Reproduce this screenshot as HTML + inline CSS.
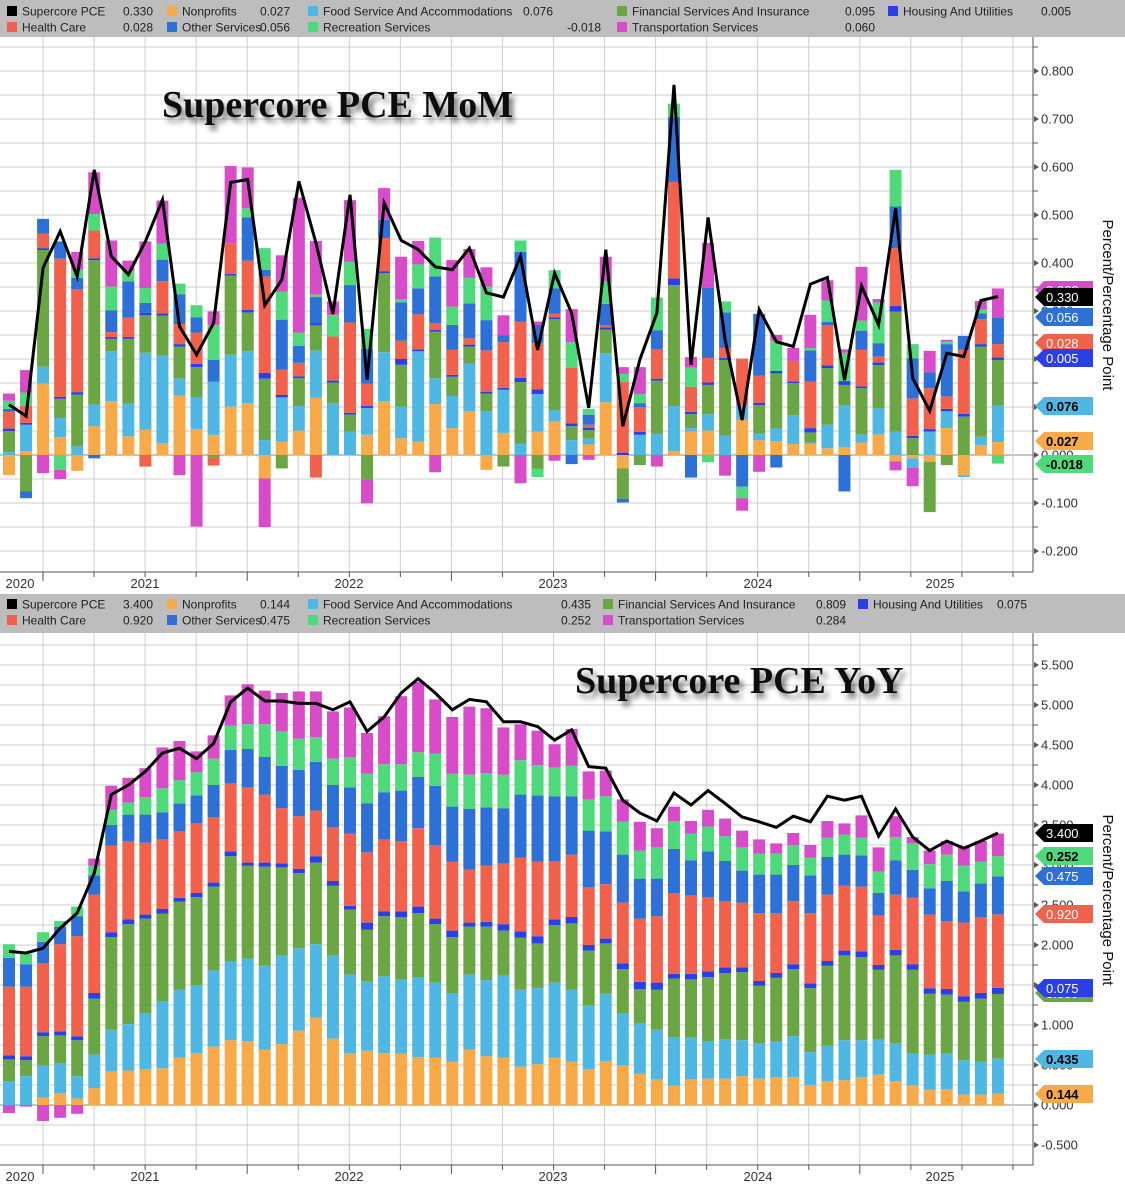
<!DOCTYPE html>
<html>
<head>
<meta charset="utf-8">
<style>
html,body{margin:0;padding:0;background:#fff;}
svg{display:block;font-family:"Liberation Sans",sans-serif;}
</style>
</head>
<body>
<svg id="chart" xmlns="http://www.w3.org/2000/svg" width="1125" height="1186" viewBox="0 0 1125 1186">
  <defs>
    <filter id="shadow" x="-10%" y="-30%" width="130%" height="180%">
      <feGaussianBlur in="SourceAlpha" stdDeviation="3"/>
      <feOffset dx="4" dy="5" result="b"/>
      <feComponentTransfer><feFuncA type="linear" slope="0.55"/></feComponentTransfer>
      <feMerge><feMergeNode/><feMergeNode in="SourceGraphic"/></feMerge>
    </filter>
    <clipPath id="clipTop"><rect x="0" y="37" width="1033" height="535"/></clipPath>
    <clipPath id="clipBot"><rect x="0" y="633" width="1033" height="532"/></clipPath>
  </defs>
  <rect x="0" y="0" width="1125" height="1186" fill="#fff"/>
  <g id="top-panel"></g>
  <g id="bot-panel"></g>
  <text x="162" y="117" font-family="Liberation Serif, serif" font-weight="bold" font-size="38" fill="#111" filter="url(#shadow)">Supercore PCE MoM</text>
  <text x="575" y="693" font-family="Liberation Serif, serif" font-weight="bold" font-size="38" fill="#111" filter="url(#shadow)">Supercore PCE YoY</text>
</svg>
<script>
// ---------- Data: MoM (top panel) ----------
const momNonprofits = [-.042,.008,.149,.037,-.033,.060,.112,.039,.053,.025,.124,.054,.042,.101,.108,-.049,.028,.051,.119,0,0,.042,.112,.035,.028,.106,.056,.091,-.031,.046,0,.049,.070,0,.022,.110,-.028,0,0,.008,.049,.051,0,.074,.031,.029,.023,.024,.014,.016,.026,.043,-.013,-.007,-.014,.056,-.042,.021,.027];
const momFood = [.006,.055,.035,.040,.018,.045,.104,.068,.160,.182,.035,.066,.111,.108,.108,.031,.092,.051,.099,.108,.049,.056,.102,.066,.188,.054,.067,.099,.091,.090,.024,.078,.023,.031,.012,.102,0,.042,.044,.094,.007,.034,.040,.030,.014,.026,.060,.002,.049,.088,.017,.054,.049,-.020,.049,.035,-.004,.017,.076];
const momFinancial = [.044,-.076,.243,.040,.108,.301,.026,.135,.078,.083,.067,.063,-.005,.165,.081,.128,-.028,.058,.052,.043,.035,-.052,.165,.087,0,.097,.040,.036,.037,-.024,.128,-.029,.190,.029,.018,.049,-.063,-.021,.111,.252,.029,.061,.158,0,.059,.115,.067,.021,.118,.042,.096,.090,.250,.035,-.105,-.021,.080,.188,.095];
const momHousing = [.005,.004,.004,.004,.005,.004,.004,.004,.005,.005,.005,.007,0,.003,.005,.012,.005,.004,.004,.004,.004,.004,.004,.012,.004,.004,.004,.004,.004,.004,.009,.010,.004,.006,.005,.005,.005,.006,.004,.014,.005,.005,.004,0,.005,.005,.003,.009,.006,.008,.004,.006,.012,.005,.005,.005,.006,.005,.005];
const momHealth = [.035,.035,.030,.288,.214,.058,.010,.040,-.024,.067,.042,.065,-.017,.063,.103,.201,.053,.028,-.047,.092,.188,.047,.069,.038,.073,.014,.052,.013,.086,.095,.117,.096,.007,.116,.006,.004,.147,.052,.061,.201,.052,.051,.021,.097,.056,0,.042,.097,.083,0,.076,.012,.120,.078,.085,.026,.133,.052,.028];
const momOther = [.006,-.014,.031,.036,.024,-.007,.045,.076,.021,.045,.062,.032,.045,0,.090,.014,.104,.035,.055,0,.078,.072,.038,.080,.054,.097,.052,.073,.063,.014,.145,.038,.053,-.019,.021,.045,-.008,.008,.040,.135,-.047,.146,.074,-.066,.129,-.026,0,.065,.007,-.076,.040,.028,.087,.083,.033,.109,.029,.012,.056];
const momRecreation = [.017,.028,0,-.031,.017,.034,.050,.021,.031,.033,.022,.025,.073,0,.019,.045,.058,.028,.005,.045,.049,.042,0,.007,.050,.081,.038,.053,.070,0,.024,-.017,.038,.053,.012,.047,.017,.019,.068,.028,.040,-.015,.023,-.024,0,.063,0,.005,.045,.059,.021,.085,.076,.030,0,.005,0,.008,-.018];
const momTransport = [.015,.047,-.038,-.019,.037,.087,.096,.022,.097,.090,-.042,-.149,.028,.162,.085,-.101,.076,.281,.112,.028,.128,-.049,.066,.088,.049,-.036,.097,.060,.040,.042,-.059,.007,-.012,.069,-.010,.051,.014,.056,-.024,0,.022,.094,-.043,-.026,-.035,.012,.028,.069,.042,.007,.112,.007,-.019,-.038,.045,.004,0,.018,.060];
const momSupercore = [.105,.081,.39,.466,.372,.594,.414,.376,.445,.532,.268,.209,.275,.568,.574,.312,.365,.570,.442,.294,.542,.157,.525,.447,.428,.392,.386,.431,.338,.329,.414,.219,.379,.296,.098,.428,.060,.199,.296,.771,.188,.495,.240,.073,.303,.236,.226,.356,.370,.156,.352,.271,.514,.160,.092,.212,.205,.322,.330];
const momTicks = [0.8,0.7,0.6,0.5,0.4,0.3,0.2,0.1,0.0,-0.1,-0.2];

// ---------- Data: YoY (bottom panel) ----------
const yoyNonprofits = [0,0,.09,.15,.08,.21,.42,.43,.45,.46,.59,.65,.73,.81,.80,.69,.76,.93,1.09,.83,.65,.68,.65,.64,.60,.59,.54,.69,.61,.59,.48,.51,.59,.54,.45,.55,.50,.39,.32,.24,.32,.33,.33,.36,.33,.35,.35,.25,.30,.31,.35,.38,.30,.25,.19,.20,.13,.13,.144];
const yoyFood = [.30,.36,.40,.37,.28,.42,.52,.58,.70,.84,.85,.85,.95,.99,1.03,1.05,1.11,1.03,.92,1.04,.98,.86,.96,.93,1.00,.94,.86,.94,.95,1.03,.96,.95,.94,.90,.80,.84,.65,.63,.62,.61,.53,.47,.49,.45,.44,.44,.51,.41,.44,.50,.46,.44,.47,.40,.44,.45,.43,.41,.435];
const yoyFinancial = [.27,.20,.37,.35,.45,.70,1.16,1.25,1.18,1.09,1.10,1.10,1.05,1.31,1.16,1.24,1.10,.94,1.02,.87,.81,.65,.75,.78,.80,.73,.70,.60,.67,.56,.65,.56,.72,.83,.68,.63,.55,.43,.50,.73,.72,.80,.83,.85,.72,.80,.84,.80,1.00,1.06,1.04,.87,1.10,1.04,.76,.73,.73,.79,.809];
const yoyHousing = [.05,.05,.05,.05,.05,.07,.06,.06,.05,.06,.05,.05,.05,.06,.04,.05,.05,.05,.08,.06,.05,.09,.06,.07,.08,.07,.08,.05,.06,.08,.08,.09,.07,.08,.07,.06,.07,.09,.09,.06,.07,.07,.07,.06,.06,.06,.06,.06,.06,.06,.07,.06,.07,.07,.07,.07,.07,.07,.075];
const yoyHealth = [.86,.87,.86,1.09,1.25,1.23,1.08,.98,.90,.87,.83,.87,.82,.85,.94,.85,.69,.66,.57,.67,.90,.88,.90,.88,.98,.92,.86,.66,.70,.76,.92,.93,.73,.78,.72,.68,.76,.79,.83,1.01,.98,.93,.83,.81,.85,.75,.79,.88,.83,.81,.81,.62,.69,.83,.92,.85,.92,.95,.92];
const yoyOther = [.36,.28,.27,.22,.25,.24,.26,.33,.35,.34,.35,.35,.40,.42,.48,.47,.53,.58,.61,.53,.58,.61,.59,.63,.64,.74,.69,.76,.73,.69,.79,.83,.81,.73,.71,.66,.60,.50,.47,.55,.44,.57,.50,.40,.48,.48,.45,.47,.47,.39,.39,.28,.43,.35,.33,.50,.39,.42,.475];
const yoyRecreation = [.17,.13,.12,.07,.12,.12,.19,.15,.22,.30,.29,.29,.33,.30,.31,.41,.43,.39,.31,.33,.38,.37,.35,.33,.31,.40,.41,.43,.43,.42,.43,.38,.36,.38,.39,.44,.41,.35,.39,.35,.33,.31,.31,.29,.26,.26,.25,.22,.24,.25,.22,.27,.29,.33,.30,.33,.32,.27,.252];
const yoyTransport = [-.10,-.02,-.20,-.16,-.11,.09,.30,.31,.36,.51,.49,.26,.29,.38,.50,.42,.48,.59,.57,.59,.62,.51,.60,.85,.88,.68,.71,.85,.81,.59,.45,.43,.29,.46,.35,.32,.28,.36,.24,.18,.16,.21,.22,.21,.18,.13,.15,.16,.21,.14,.28,.30,.26,.08,.17,.17,.24,.26,.284];
const yoySupercore = [1.92,1.90,1.96,2.21,2.40,2.90,3.88,4.00,4.17,4.40,4.46,4.33,4.52,5.04,5.21,5.05,5.05,5.02,5.02,4.94,5.04,4.67,4.85,5.15,5.33,5.15,4.94,5.07,5.04,4.79,4.79,4.73,4.56,4.69,4.23,4.21,3.81,3.65,3.55,3.90,3.75,3.93,3.77,3.60,3.54,3.47,3.61,3.54,3.86,3.81,3.86,3.36,3.70,3.35,3.18,3.30,3.21,3.30,3.40];
const yoyTicks = [5.5,5.0,4.5,4.0,3.5,3.0,2.5,2.0,1.5,1.0,0.5,0.0,-0.5];

const yearLabels = ["2020","2021","2022","2023","2024","2025"];
const seriesNames = ["Nonprofits","Food Service And Accommodations","Financial Services And Insurance","Housing And Utilities","Health Care","Other Services","Recreation Services","Transportation Services"];

// ---------- Style ----------
const COLORS = {"Nonprofits":"#f8aa48","Food Service And Accommodations":"#4fb7e4","Financial Services And Insurance":"#6aa744","Housing And Utilities":"#2b3fe8","Health Care":"#f2614b","Other Services":"#2c70d8","Recreation Services":"#4ed97b","Transportation Services":"#d84bc9","Supercore PCE":"#000000"};
const SLUG = {"Nonprofits":"nonprofits","Food Service And Accommodations":"food-service","Financial Services And Insurance":"financial-services","Housing And Utilities":"housing-utilities","Health Care":"health-care","Other Services":"other-services","Recreation Services":"recreation-services","Transportation Services":"transportation-services"};
const NS = "http://www.w3.org/2000/svg";
const X0 = 9, STEP = 17.05, BW = 12;
function xPos(i){ return X0 + i*STEP; }
function mk(tag, attrs, parent){
  const e = document.createElementNS(NS, tag);
  for (const k in attrs) e.setAttribute(k, attrs[k]);
  parent.appendChild(e);
  return e;
}

function drawPanel(cfg){
  const g = document.getElementById(cfg.gid);
  const y = cfg.y;
  const lb = mk("rect",{x:0,y:cfg.legTop,width:1125,height:cfg.legH,fill:"#bdbdbd"},g);
  
  
  for (let v = cfg.gridMin; v <= cfg.gridMax + 1e-9; v += cfg.gridStep){
    const yy = y(v);
    if (yy < cfg.plotTop || yy > cfg.plotBottom) continue;
    const gl = mk("line",{x1:0,x2:1033,y1:yy,y2:yy,stroke:Math.abs(v)<1e-9?"#8a8a8a":"#cfcfcf","stroke-width":1},g);
    
    
  }
  for (let k = 0; k < 20; k++){
    const xx = 43 + k*51.05;
    const vl = mk("line",{x1:xx,x2:xx,y1:cfg.plotTop,y2:cfg.plotBottom,stroke:"#cfcfcf","stroke-width":1},g);
    
    
  }
  const bars = mk("g",{"clip-path":cfg.clip},g);
  
  
  const n = cfg.series[0].length;
  for (let i = 0; i < n; i++){
    let pos = 0, neg = 0;
    for (let s = 0; s < cfg.series.length; s++){
      const v = cfg.series[s][i];
      if (!v) continue;
      let y1, y2;
      if (v > 0){ y1 = y(pos + v); y2 = y(pos); pos += v; }
      else { y1 = y(neg); y2 = y(neg + v); neg += v; }
      const r = mk("rect",{x:xPos(i)-BW/2,y:y1,width:BW,height:Math.max(0,y2-y1),fill:COLORS[seriesNames[s]]},bars);
      
      
    }
  }
  let d = "";
  cfg.line.forEach((v,i)=>{ d += (i?"L":"M") + xPos(i).toFixed(1) + "," + y(v).toFixed(1); });
  const ln = mk("path",{d:d,fill:"none",stroke:"#000","stroke-width":3,"stroke-linejoin":"miter","clip-path":cfg.clip},g);
  
  
  const ax = mk("line",{x1:1033,x2:1033,y1:cfg.plotTop,y2:cfg.plotBottom,stroke:"#555","stroke-width":1},g);
  
  
  const xa = mk("line",{x1:0,x2:1033,y1:cfg.plotBottom,y2:cfg.plotBottom,stroke:"#555","stroke-width":1},g);
  
  
  for (let k = 0; k < 20; k++){
    const xx = 43 + k*51.05;
    const tk = mk("line",{x1:xx,x2:xx,y1:cfg.plotBottom,y2:cfg.plotBottom+(k%4===0?9:5),stroke:"#555"},g);
    
    
  }
  const yearX = [20,145,349,553,758,940];
  yearLabels.forEach((t,k)=>{
    const tx = mk("text",{x:yearX[k],y:cfg.plotBottom+16,"text-anchor":"middle","font-size":13,fill:"#333"},g);
    tx.textContent = t;
    
    
  });
  cfg.ticks.forEach(v=>{
    const yy = y(v);
    const tm = mk("path",{d:"M1034,"+(yy-3)+"L1039,"+yy+"L1034,"+(yy+3)+"Z",fill:"#555"},g);
    
    
    const tx = mk("text",{x:1041,y:yy+4.5,"font-size":13,fill:"#333"},g);
    tx.textContent = v.toFixed(3);
    
    
    const my = y(v + cfg.gridStep);
    if (my >= cfg.plotTop){
      const mt = mk("line",{x1:1033,x2:1038,y1:my,y2:my,stroke:"#555"},g);
      
      
    }
  });
  const at = mk("text",{x:0,y:0,"font-size":15,fill:"#111","text-anchor":"middle",transform:"translate(1103,"+cfg.titleY+") rotate(90)"},g);
  at.textContent = "Percent/Percentage Point";
  
  
  cfg.tags.forEach(tg=>{
    const yy = tg.y;
    const p = mk("path",{d:"M1035,"+yy+"L1044,"+(yy-9)+"L1093,"+(yy-9)+"L1093,"+(yy+9)+"L1044,"+(yy+9)+"Z",fill:tg.color},g);
    
    
    const t = mk("text",{x:1046,y:yy+5,"font-size":13,fill:tg.text,"font-weight":tg.text==="#000"?"bold":"normal"},g);
    t.textContent = tg.value.toFixed(3);
    
    
  });
  cfg.legend.forEach(it=>{
    const sq = mk("rect",{x:it.sx,y:it.y-5,width:10,height:10,fill:COLORS[it.name]},g);
    
    
    const t = mk("text",{x:it.sx+15,y:it.y+4.5,"font-size":12,fill:"#222"},g);
    t.textContent = it.name;
    
    
    const v = mk("text",{x:it.vx,y:it.y+4.5,"font-size":12,fill:"#222","text-anchor":"end"},g);
    v.textContent = it.value.toFixed(3);
    
    
  });
}

const L = a => a[a.length-1];
const momSeries = [momNonprofits,momFood,momFinancial,momHousing,momHealth,momOther,momRecreation,momTransport];
const yoySeries = [yoyNonprofits,yoyFood,yoyFinancial,yoyHousing,yoyHealth,yoyOther,yoyRecreation,yoyTransport];

drawPanel({
  gid:"top-panel", y:v=>455 - v*480, legTop:0, legH:37, plotTop:37, plotBottom:572,
  gridMin:-0.25, gridMax:0.85, gridStep:0.05, clip:"url(#clipTop)",
  series:momSeries, line:momSupercore, ticks:momTicks, titleY:305,
  tags:[
    {y:290,color:COLORS["Transportation Services"],text:"#fff",value:L(momTransport)},
    {y:297,color:"#000",text:"#fff",value:L(momSupercore)},
    {y:317,color:COLORS["Other Services"],text:"#fff",value:L(momOther)},
    {y:343,color:COLORS["Health Care"],text:"#fff",value:L(momHealth)},
    {y:358,color:COLORS["Housing And Utilities"],text:"#fff",value:L(momHousing)},
    {y:406,color:COLORS["Food Service And Accommodations"],text:"#000",value:L(momFood)},
    {y:441,color:COLORS["Nonprofits"],text:"#000",value:L(momNonprofits)},
    {y:464,color:COLORS["Recreation Services"],text:"#000",value:L(momRecreation)}
  ],
  legend:[
    {name:"Supercore PCE",sx:7,y:11,vx:153,value:L(momSupercore)},
    {name:"Nonprofits",sx:167,y:11,vx:290,value:L(momNonprofits)},
    {name:"Food Service And Accommodations",sx:308,y:11,vx:553,value:L(momFood)},
    {name:"Financial Services And Insurance",sx:617,y:11,vx:875,value:L(momFinancial)},
    {name:"Housing And Utilities",sx:888,y:11,vx:1071,value:L(momHousing)},
    {name:"Health Care",sx:7,y:27,vx:153,value:L(momHealth)},
    {name:"Other Services",sx:167,y:27,vx:290,value:L(momOther)},
    {name:"Recreation Services",sx:308,y:27,vx:601,value:L(momRecreation)},
    {name:"Transportation Services",sx:617,y:27,vx:875,value:L(momTransport)}
  ]
});

drawPanel({
  gid:"bot-panel", y:v=>1105 - v*80, legTop:594, legH:39, plotTop:633, plotBottom:1165,
  gridMin:-0.75, gridMax:5.75, gridStep:0.25, clip:"url(#clipBot)",
  series:yoySeries, line:yoySupercore, ticks:yoyTicks, titleY:900,
  tags:[
    {y:993,color:COLORS["Financial Services And Insurance"],text:"#fff",value:L(yoyFinancial)},
    {y:833,color:"#000",text:"#fff",value:L(yoySupercore)},
    {y:856,color:COLORS["Recreation Services"],text:"#000",value:L(yoyRecreation)},
    {y:876,color:COLORS["Other Services"],text:"#fff",value:L(yoyOther)},
    {y:914,color:COLORS["Health Care"],text:"#fff",value:L(yoyHealth)},
    {y:988,color:COLORS["Housing And Utilities"],text:"#fff",value:L(yoyHousing)},
    {y:1059,color:COLORS["Food Service And Accommodations"],text:"#000",value:L(yoyFood)},
    {y:1094,color:COLORS["Nonprofits"],text:"#000",value:L(yoyNonprofits)}
  ],
  legend:[
    {name:"Supercore PCE",sx:7,y:604,vx:153,value:L(yoySupercore)},
    {name:"Nonprofits",sx:167,y:604,vx:290,value:L(yoyNonprofits)},
    {name:"Food Service And Accommodations",sx:308,y:604,vx:591,value:L(yoyFood)},
    {name:"Financial Services And Insurance",sx:603,y:604,vx:846,value:L(yoyFinancial)},
    {name:"Housing And Utilities",sx:858,y:604,vx:1027,value:L(yoyHousing)},
    {name:"Health Care",sx:7,y:620,vx:153,value:L(yoyHealth)},
    {name:"Other Services",sx:167,y:620,vx:290,value:L(yoyOther)},
    {name:"Recreation Services",sx:308,y:620,vx:591,value:L(yoyRecreation)},
    {name:"Transportation Services",sx:603,y:620,vx:846,value:L(yoyTransport)}
  ]
});
</script>
</body>
</html>
